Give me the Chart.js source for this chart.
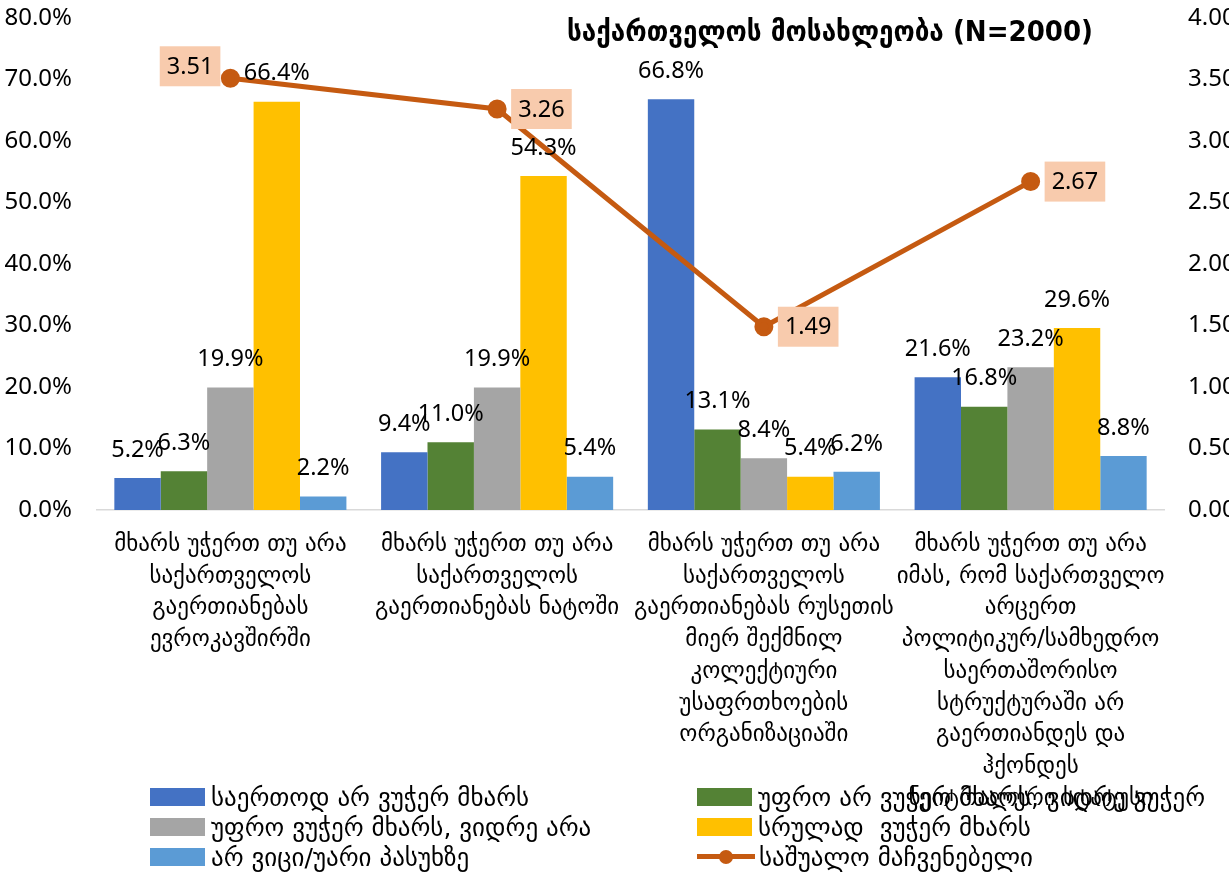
<!DOCTYPE html>
<html>
<head>
<meta charset="utf-8">
<script src="https://cdn.jsdelivr.net/npm/chart.js@4/dist/chart.umd.min.js"></script>
<style>
  body { margin: 0; background: #fff; }
  #wrap { position: relative; width: 1229px; height: 879px; }
  #legend { position: absolute; left: 150px; top: 782px; display: grid; grid-template-columns: 547px auto; font-family: "DejaVu Sans", sans-serif; font-size: 25px; color: #000; }
  #legend .item { height: 30px; display: flex; align-items: center; white-space: pre; }
  #legend .box { width: 55px; height: 18px; margin-right: 6px; flex: none; }
  #legend .ln { position: relative; width: 58px; height: 18px; margin-right: 4px; flex: none; }
  #legend .ln i { position: absolute; left: 0; right: 0; top: 6px; height: 5px; }
  #legend .ln b { position: absolute; left: 22px; top: 2px; width: 14px; height: 14px; border-radius: 50%; }
</style>
</head>
<body>
<div id="wrap">
  <canvas id="grafico" width="1229" height="879"></canvas>
  <div id="legend"></div>
</div>
<script>
// categorias (rótulos quebrados em linhas como no original)
const categorias = [
  ["მხარს უჭერთ თუ არა", "საქართველოს", "გაერთიანებას", "ევროკავშირში"],
  ["მხარს უჭერთ თუ არა", "საქართველოს", "გაერთიანებას ნატოში"],
  ["მხარს უჭერთ თუ არა", "საქართველოს", "გაერთიანებას რუსეთის", "მიერ შექმნილ", "კოლექტიური", "უსაფრთხოების", "ორგანიზაციაში"],
  ["მხარს უჭერთ თუ არა", "იმას, რომ საქართველო", "არცერთ", "პოლიტიკურ/სამხედრო", "საერთაშორისო", "სტრუქტურაში არ", "გაერთიანდეს და", "ჰქონდეს", "ნეიტრალური სტატუსი"]
];

const nomes = [
  "საერთოდ არ ვუჭერ მხარს",
  "უფრო არ ვუჭერ მხარს, ვიდრე ვუჭერ",
  "უფრო ვუჭერ მხარს, ვიდრე არა",
  "სრულად  ვუჭერ მხარს",
  "არ ვიცი/უარი პასუხზე"
];
const nomeMedia = "საშუალო მაჩვენებელი";
const titulo = "საქართველოს მოსახლეობა (N=2000)";

// percentuais (%)
const naoApoiaNada = [5.2, 9.4, 66.8, 21.6];
const maisNaoQueSim = [6.3, 11.0, 13.1, 16.8];
const maisSimQueNao = [19.9, 19.9, 8.4, 23.2];
const apoiaTotal = [66.4, 54.3, 5.4, 29.6];
const naoSabe = [2.2, 5.4, 6.2, 8.8];
// média (eixo direito)
const media = [3.51, 3.26, 1.49, 2.67];

const cores = ['#4472C4', '#548235', '#A5A5A5', '#FFC000', '#5B9BD5'];
const corLinha = '#C55A11';
const ladoRotuloMedia = ['left', 'right', 'right', 'right'];

const series = [naoApoiaNada, maisNaoQueSim, maisSimQueNao, apoiaTotal, naoSabe];

const datasets = series.map((d, i) => ({
  type: 'bar',
  label: nomes[i],
  data: d,
  backgroundColor: cores[i],
  yAxisID: 'y',
  order: 1,
  barPercentage: 1.0,
  categoryPercentage: 0.87
}));
datasets.push({
  type: 'line',
  label: nomeMedia,
  data: media,
  borderColor: corLinha,
  backgroundColor: corLinha,
  borderWidth: 5,
  pointRadius: 7,
  pointHoverRadius: 7,
  yAxisID: 'y2',
  order: 0,
  tension: 0
});

// rótulos de valores
const rotulos = {
  id: 'rotulos',
  afterDatasetsDraw(chart) {
    const ctx = chart.ctx;
    ctx.save();
    ctx.textBaseline = 'middle';
    ctx.textAlign = 'center';
    chart.data.datasets.forEach((ds, i) => {
      const meta = chart.getDatasetMeta(i);
      meta.data.forEach((el, j) => {
        const v = ds.data[j];
        if (ds.type === 'line') {
          ctx.font = '23.5px "Noto Sans"';
          const txt = v.toFixed(2);
          const w = ctx.measureText(txt).width + 14;
          const h = 40;
          let cx, cy;
          if (ladoRotuloMedia[j] === 'left') { cx = el.x - 10 - w / 2; cy = el.y - 12; }
          else { cx = el.x + 14 + w / 2; cy = el.y; }
          ctx.fillStyle = '#F8CBAD';
          ctx.fillRect(cx - w / 2, cy - h / 2, w, h);
          ctx.fillStyle = '#000';
          ctx.fillText(txt, cx, cy + 1);
        } else {
          ctx.font = '23.5px "Noto Sans"';
          ctx.fillStyle = '#000';
          ctx.fillText(v.toFixed(1) + '%', el.x, el.y - 28);
        }
      });
    });
    ctx.restore();
  }
};

const tituloPlugin = {
  id: 'tituloPlugin',
  afterDraw(chart) {
    const ctx = chart.ctx;
    ctx.save();
    ctx.font = 'bold 29px "DejaVu Sans Condensed"';
    ctx.fillStyle = '#000';
    ctx.textAlign = 'center';
    ctx.textBaseline = 'middle';
    ctx.fillText(titulo, 830, 33);
    ctx.restore();
  }
};

const ctx = document.getElementById('grafico').getContext('2d');
const grafico = new Chart(ctx, {
  data: { labels: categorias, datasets: datasets },
  options: {
    responsive: false,
    devicePixelRatio: 1,
    animation: false,
    layout: { padding: { top: 0, bottom: 99, left: 0, right: 0 } },
    plugins: {
      legend: { display: false },
      tooltip: { enabled: false }
    },
    scales: {
      x: {
        grid: { display: false, drawTicks: false },
        border: { color: '#D9D9D9', width: 1.5 },
        ticks: {
          color: '#000',
          font: { family: 'DejaVu Sans', size: 23, lineHeight: 1.38 },
          padding: 19,
          maxRotation: 0,
          autoSkip: false
        },
        afterFit(s) {
          s.height = 270;
          // deixa a última linha invadir a legenda, como no original
          s._computeLabelArea = () => undefined;
        }
      },
      y: {
        position: 'left',
        min: 0, max: 80,
        grid: { display: false, drawTicks: false },
        border: { display: false },
        ticks: {
          stepSize: 10,
          color: '#000',
          font: { family: 'Noto Sans', size: 24 },
          padding: 25,
          callback: v => v.toFixed(1) + '%'
        },
        afterFit(s) { s.width = 97; s.paddingTop = 18; s.paddingBottom = 0; }
      },
      y2: {
        position: 'right',
        min: 0, max: 4,
        grid: { display: false, drawTicks: false },
        border: { display: false },
        ticks: {
          stepSize: 0.5,
          color: '#000',
          font: { family: 'Noto Sans', size: 24 },
          padding: 24,
          callback: v => v.toFixed(2)
        },
        afterFit(s) { s.width = 65; s.paddingTop = 18; s.paddingBottom = 0; }
      }
    }
  },
  plugins: [rotulos, tituloPlugin]
});

// legenda em duas colunas
const leg = document.getElementById('legend');
grafico.data.datasets.forEach(ds => {
  const it = document.createElement('div');
  it.className = 'item';
  if (ds.type === 'line') {
    it.innerHTML = '<span class="ln"><i style="background:' + ds.borderColor + '"></i><b style="background:' + ds.borderColor + '"></b></span>';
  } else {
    it.innerHTML = '<span class="box" style="background:' + ds.backgroundColor + '"></span>';
  }
  it.appendChild(document.createTextNode(ds.label));
  leg.appendChild(it);
});
</script>
</body>
</html>
